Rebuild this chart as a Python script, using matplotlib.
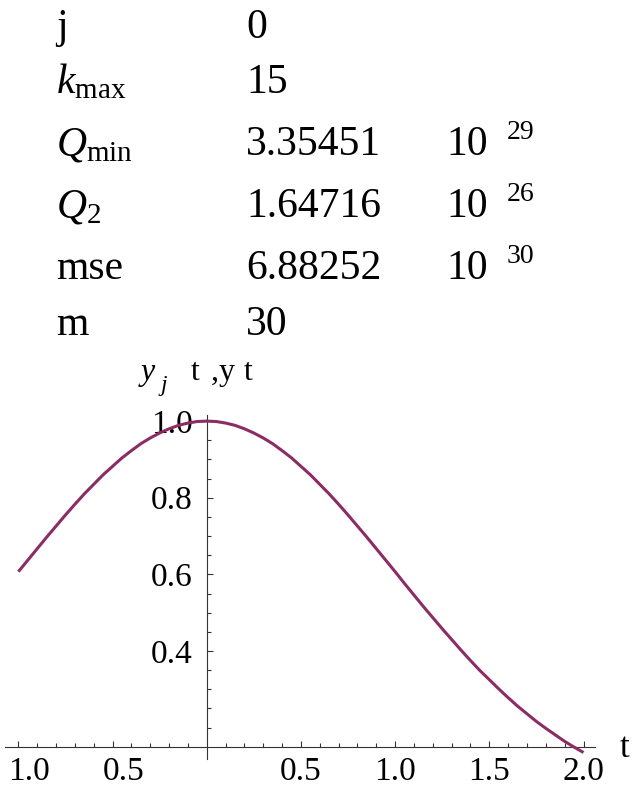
import matplotlib
matplotlib.use("Agg")
import matplotlib.pyplot as plt
import matplotlib.transforms as mtransforms

plt.rcParams['font.family'] = ['Liberation Serif', 'DejaVu Serif']
plt.rcParams['mathtext.fontset'] = 'custom'
plt.rcParams['mathtext.rm'] = 'Liberation Serif'
plt.rcParams['mathtext.it'] = 'Liberation Serif:italic'

# ---- table data ----
row_labels = ['j', r'$k_{\mathrm{max}}$', r'$Q_{\mathrm{min}}$', r'$Q_{2}$', 'mse', 'm']
row_values = ['0', '15', '3.35451', '1.64716', '6.88252', '30']
row_mantissa = ['', '', '10', '10', '10', '']
row_exponents = ['', '', '29', '26', '30', '']

# ---- curve data ----
t_values = [-1.0, -0.95, -0.9, -0.85, -0.8, -0.75, -0.7, -0.65, -0.6, -0.55,
            -0.5, -0.45, -0.4, -0.35, -0.3, -0.25, -0.2, -0.15, -0.1, -0.05,
            0.0, 0.05, 0.1, 0.15, 0.2, 0.25, 0.3, 0.35, 0.4, 0.45,
            0.5, 0.55, 0.6, 0.65, 0.7, 0.75, 0.8, 0.85, 0.9, 0.95,
            1.0, 1.05, 1.1, 1.15, 1.2, 1.25, 1.3, 1.35, 1.4, 1.45,
            1.5, 1.55, 1.6, 1.65, 1.7, 1.75, 1.8, 1.85, 1.9, 1.95, 2.0]
y_values = [0.607, 0.637, 0.667, 0.697, 0.726, 0.755, 0.783, 0.810, 0.835, 0.860,
            0.882, 0.904, 0.923, 0.941, 0.956, 0.969, 0.980, 0.989, 0.995, 0.999,
            1.000, 0.999, 0.995, 0.989, 0.980, 0.969, 0.956, 0.941, 0.923, 0.904,
            0.882, 0.860, 0.835, 0.810, 0.783, 0.755, 0.726, 0.697, 0.667, 0.637,
            0.607, 0.576, 0.546, 0.516, 0.487, 0.458, 0.430, 0.402, 0.375, 0.349,
            0.325, 0.301, 0.278, 0.256, 0.236, 0.216, 0.198, 0.181, 0.164, 0.149, 0.135]

x_major = [-1.0, -0.5, 0.5, 1.0, 1.5, 2.0]
x_major_labels = ['1.0', '0.5', '0.5', '1.0', '1.5', '2.0']
x_minor = [-0.9, -0.8, -0.7, -0.6, -0.4, -0.3, -0.2, -0.1,
           0.1, 0.2, 0.3, 0.4, 0.6, 0.7, 0.8, 0.9,
           1.1, 1.2, 1.3, 1.4, 1.6, 1.7, 1.8, 1.9]
y_major = [0.4, 0.6, 0.8, 1.0]
y_major_labels = ['0.4', '0.6', '0.8', '1.0']
y_minor = [0.2, 0.25, 0.3, 0.35, 0.45, 0.5, 0.55, 0.65, 0.7, 0.75, 0.85, 0.9, 0.95]

W, H = 640, 794
fig = plt.figure(figsize=(W / 100, H / 100), dpi=100)


def fx(px):
    return px / W


def fy(py):
    return 1 - py / H


# ---- table ----
baselines = [38, 93, 155, 217, 279, 335]
for lab, val, man, ex, b in zip(row_labels, row_values, row_mantissa, row_exponents, baselines):
    fig.text(fx(56), fy(b), lab, fontsize=30, va='baseline', ha='left')
    fig.text(fx(246), fy(b), val, fontsize=30, va='baseline', ha='left')
    if man:
        fig.text(fx(446), fy(b), man, fontsize=30, va='baseline', ha='left')
        fig.text(fx(507), fy(b - 16), ex, fontsize=20, va='baseline', ha='left')

# ---- plot ----
ax = fig.add_axes([fx(5), fy(759), fx(595) - fx(5), fy(415) - fy(759)])
ax.set_xlim(-1.071, 2.061)
ax.set_ylim(0.118, 1.016)
ax.plot(t_values, y_values, color='#8B2C65', lw=2.2, zorder=3,
        solid_capstyle='butt', solid_joinstyle='round')

for s in ['top', 'right']:
    ax.spines[s].set_visible(False)
ax.spines['left'].set_position(('data', 0))
ax.spines['bottom'].set_position(('data', 0.15))
for s in ['left', 'bottom']:
    ax.spines[s].set_linewidth(0.8)
    ax.spines[s].set_color('#333333')

ax.set_xticks(x_major)
ax.set_xticklabels(x_major_labels)
ax.set_xticks(x_minor, minor=True)
ax.set_yticks(y_major)
ax.set_yticklabels(y_major_labels)
ax.set_yticks(y_minor, minor=True)
ax.tick_params(which='both', direction='in', color='#333333', width=0.8)
ax.tick_params(which='major', length=4.0, labelsize=24)
ax.tick_params(which='minor', length=2.6)
ax.tick_params(axis='x', which='major', pad=7)
ax.tick_params(axis='y', which='major', pad=10)

offset = mtransforms.ScaledTranslation(0.11, 0, fig.dpi_scale_trans)
for lbl in ax.get_xticklabels()[:2]:
    lbl.set_transform(lbl.get_transform() + offset)

# axis labels
fig.text(fx(620), fy(757), 't', fontsize=25, va='baseline', ha='left')
ylabel_parts = [
    ('y', 141, 380, 23, 'italic'),
    ('j', 161, 391, 17, 'italic'),
    ('t', 191, 380, 23, 'normal'),
    (',', 211, 380, 23, 'normal'),
    ('y', 219, 380, 23, 'normal'),
    ('t', 244, 380, 23, 'normal'),
]
for txt, px, py, fs, st in ylabel_parts:
    fig.text(fx(px), fy(py), txt, fontsize=fs, style=st, va='baseline', ha='left')

fig.savefig('out.png', dpi=100)
